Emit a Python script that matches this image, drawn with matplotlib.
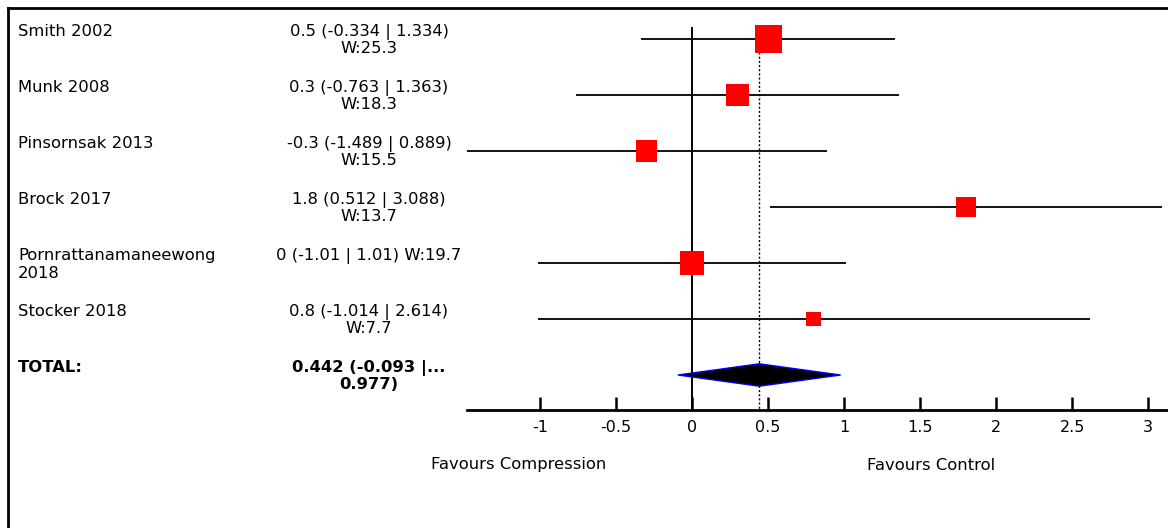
import numpy as np
import matplotlib
matplotlib.use("Agg")
import matplotlib.pyplot as plt
from matplotlib import transforms
from matplotlib.lines import Line2D

# study data
studies = ["Smith 2002", "Munk 2008", "Pinsornsak 2013", "Brock 2017",
           "Pornrattanamaneewong\n2018", "Stocker 2018"]
est = [0.5, 0.3, -0.3, 1.8, 0.0, 0.8]
lo = [-0.334, -0.763, -1.489, 0.512, -1.01, -1.014]
hi = [1.334, 1.363, 0.889, 3.088, 1.01, 2.614]
weight = [25.3, 18.3, 15.5, 13.7, 19.7, 7.7]
value_labels = ["0.5 (-0.334 | 1.334)\nW:25.3",
                "0.3 (-0.763 | 1.363)\nW:18.3",
                "-0.3 (-1.489 | 0.889)\nW:15.5",
                "1.8 (0.512 | 3.088)\nW:13.7",
                "0 (-1.01 | 1.01) W:19.7",
                "0.8 (-1.014 | 2.614)\nW:7.7"]

total_est = 0.442
total_lo = -0.093
total_hi = 0.977
total_label = "0.442 (-0.093 |...\n0.977)"

xticks = [-1, -0.5, 0, 0.5, 1, 1.5, 2, 2.5, 3]
xtick_labels = ["-1", "-0.5", "0", "0.5", "1", "1.5", "2", "2.5", "3"]

W, H = 1168, 528
FS = 11.8
plt.rcParams['font.family'] = ['DejaVu Sans']

fig = plt.figure(figsize=(W / 100, H / 100), dpi=100)
ax = fig.add_axes([467 / W, (H - 410) / H, (W - 467) / W, (410 - 11) / H])
ax.set_xlim(-1.48, 3.13)
ax.set_ylim(6.625, -0.5)

n = len(studies)
rows = np.arange(n)

# confidence intervals
ax.hlines(rows, lo, hi, color="black", lw=1.3, zorder=2)

# zero line and pooled estimate line
ax.vlines(0, -0.21, 6.625, color="black", lw=1.4, zorder=1)
ax.vlines(total_est, -0.21, 6.625, color="black", lw=1.0,
          linestyles=(0, (1.5, 1.5)), zorder=1)

# weighted squares (side ~ sqrt(weight))
side_px = 5.37 * np.sqrt(np.array(weight))
side_pt = side_px * 72 / 100
ax.scatter(est, rows, s=side_pt ** 2, marker="s", color="#ff0000",
           edgecolors="none", zorder=3)

# summary diamond
yt = n
dh = 0.2
ax.fill([total_lo, total_est, total_hi, total_est],
        [yt, yt - dh, yt, yt + dh], facecolor="black", edgecolor="#0000ff",
        lw=1.0, zorder=3)

for s in ["top", "right", "left"]:
    ax.spines[s].set_visible(False)
ax.spines["bottom"].set_linewidth(2)
ax.set_yticks([])
ax.set_xticks(xticks)
ax.set_xticklabels(xtick_labels)
ax.tick_params(axis="x", direction="in", length=9.5, width=1.8,
               labelsize=FS - 0.3, pad=7)

# left-hand text columns
tr = transforms.blended_transform_factory(fig.transFigure, ax.transData)
for i in range(n):
    ax.text(18 / W, i - 0.27, studies[i], transform=tr, ha="left", va="top",
            fontsize=FS, linespacing=1.3)
    ax.text(369 / W, i - 0.27, value_labels[i], transform=tr, ha="center",
            va="top", fontsize=FS, linespacing=1.1, multialignment="center")
ax.text(18 / W, yt - 0.27, "TOTAL:", transform=tr, ha="left", va="top",
        fontsize=FS, fontweight="bold")
ax.text(369 / W, yt - 0.27, total_label, transform=tr, ha="center", va="top",
        fontsize=FS, fontweight="bold", linespacing=1.1,
        multialignment="center")

fig.text(519 / W, 1 - 465 / H, "Favours Compression", ha="center",
         va="center", fontsize=FS)
fig.text(931 / W, 1 - 465 / H, "Favours Control", ha="center",
         va="center", fontsize=FS)

# page border (top and left)
fig.add_artist(Line2D([7.5 / W, 1], [1 - 7.5 / H, 1 - 7.5 / H],
                      transform=fig.transFigure, color="black", lw=2))
fig.add_artist(Line2D([7.5 / W, 7.5 / W], [0, 1 - 7.5 / H],
                      transform=fig.transFigure, color="black", lw=2))

fig.savefig("out.png", dpi=100)
